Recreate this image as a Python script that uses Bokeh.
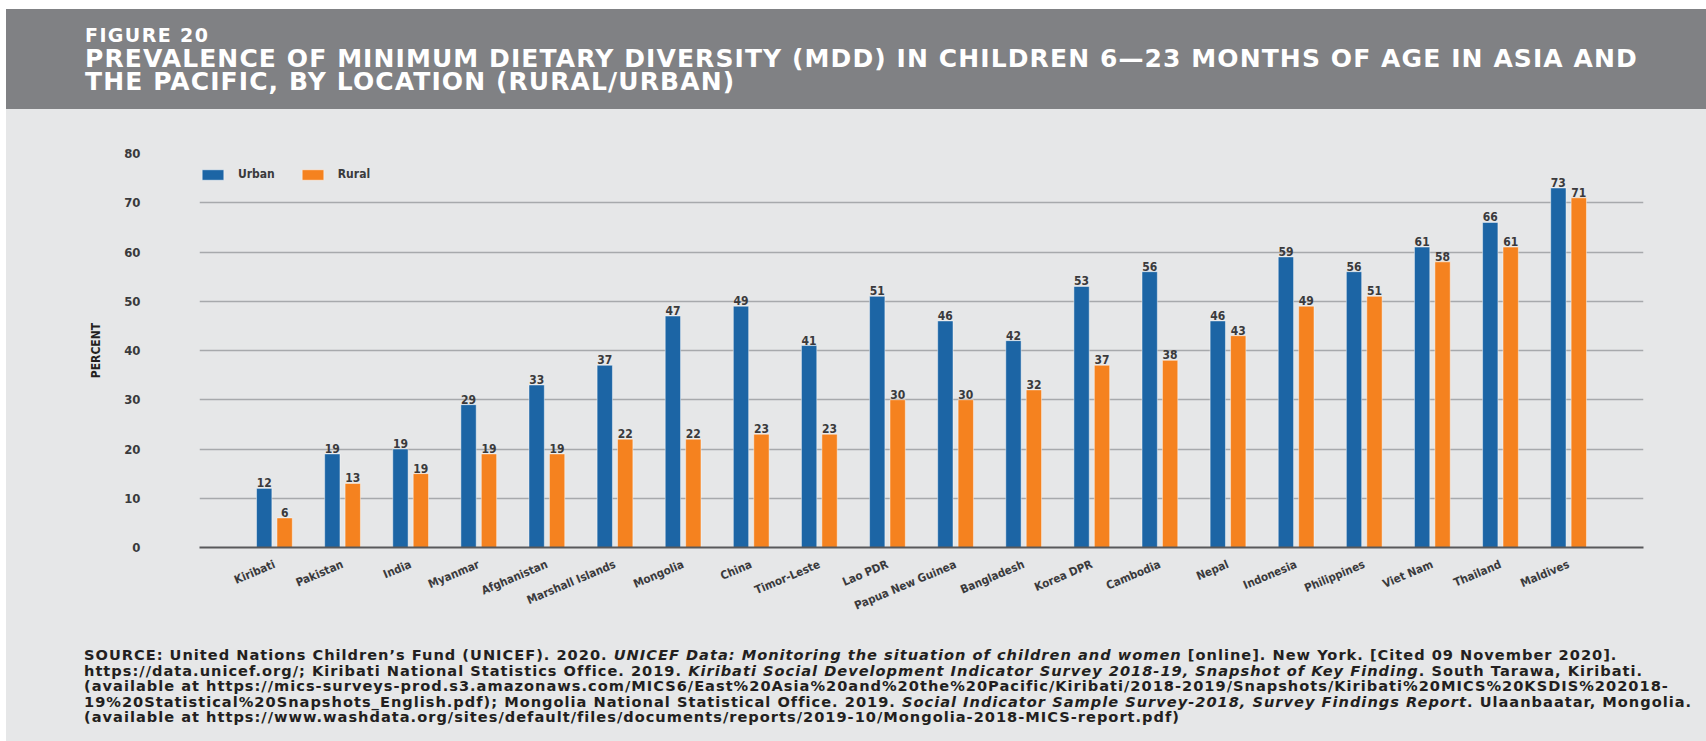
import math
from bokeh.plotting import figure
from bokeh.models import (ColumnDataSource, FactorRange, Div, Legend, LegendItem,
                          Range1d, FixedTicker)
from bokeh.layouts import column
from bokeh.transform import dodge
from bokeh.core.properties import value
from bokeh.embed import file_html
from bokeh.resources import INLINE

# ---------------- data ----------------
countries = ["Kiribati", "Pakistan", "India", "Myanmar", "Afghanistan",
             "Marshall Islands", "Mongolia", "China", "Timor-Leste", "Lao PDR",
             "Papua New Guinea", "Bangladesh", "Korea DPR", "Cambodia", "Nepal",
             "Indonesia", "Philippines", "Viet Nam", "Thailand", "Maldives"]
urban = [12, 19, 20, 29, 33, 37, 47, 49, 41, 51, 46, 42, 53, 56, 46, 59, 56, 61, 66, 73]
rural = [6, 13, 15, 19, 19, 22, 22, 23, 23, 30, 30, 32, 37, 38, 43, 49, 51, 58, 61, 71]
urban_labels = ["12", "19", "19", "29", "33", "37", "47", "49", "41", "51",
                "46", "42", "53", "56", "46", "59", "56", "61", "66", "73"]
rural_labels = ["6", "13", "19", "19", "19", "22", "22", "23", "23", "30",
                "30", "32", "37", "38", "43", "49", "51", "58", "61", "71"]
y_ticks = [0, 10, 20, 30, 40, 50, 60, 70, 80]

# ---------------- styles ----------------
FONT = "DejaVu Sans Condensed"
BG = "#e6e7e8"
BAND = "#808184"
BLUE = "#1c65a5"
ORANGE = "#f5821f"
TXT = "#3a3a3c"

src = ColumnDataSource(dict(country=countries, urban=urban, rural=rural,
                            ulab=urban_labels, rlab=rural_labels))

p = figure(x_range=FactorRange(factors=countries, range_padding=0.6,
                               range_padding_units="absolute"),
           y_range=Range1d(0, 80),
           width=1700, height=544, output_backend="svg", toolbar_location=None,
           min_border_left=193, min_border_right=63, min_border_top=44,
           min_border_bottom=106,
           background_fill_color=BG, border_fill_color=None,
           outline_line_color=None, margin=0)

OFF = 0.15
W = 0.225
r_u = p.vbar(x=dodge("country", -OFF, range=p.x_range), top="urban", width=W,
             source=src, fill_color=BLUE, line_color="#ffffff", line_alpha=0.45,
             line_width=1)
r_r = p.vbar(x=dodge("country", OFF, range=p.x_range), top="rural", width=W,
             source=src, fill_color=ORANGE, line_color="#ffffff", line_alpha=0.45,
             line_width=1)

for col, lab, off in (("urban", "ulab", -OFF), ("rural", "rlab", OFF)):
    p.text(x=dodge("country", off, range=p.x_range), y=col, text=lab, source=src,
           text_align="center", text_baseline="bottom", y_offset=-1,
           text_font=value(FONT), text_font_size="12px", text_font_style="bold",
           text_color=TXT)

# axes
p.yaxis.ticker = FixedTicker(ticks=y_ticks)
p.yaxis.axis_line_color = None
p.yaxis.major_tick_line_color = None
p.yaxis.minor_tick_line_color = None
p.yaxis.major_label_standoff = 53
p.yaxis.major_label_text_font = FONT
p.yaxis.major_label_text_font_size = "13px"
p.yaxis.major_label_text_font_style = "bold"
p.yaxis.major_label_text_color = TXT
p.yaxis.axis_label = "PERCENT"
p.yaxis.axis_label_text_font = FONT
p.yaxis.axis_label_text_font_size = "12px"
p.yaxis.axis_label_text_font_style = "bold"
p.yaxis.axis_label_text_color = "#231f20"
p.yaxis.axis_label_standoff = 18

p.xaxis.axis_line_color = "#58595b"
p.xaxis.axis_line_width = 2
p.xaxis.major_tick_line_color = None
p.xaxis.minor_tick_line_color = None
p.xaxis.major_label_orientation = 0.4
p.xaxis.major_label_standoff = 10
p.xaxis.major_label_text_font = FONT
p.xaxis.major_label_text_font_size = "11.5px"
p.xaxis.major_label_text_font_style = "bold"
p.xaxis.major_label_text_color = TXT

p.xgrid.grid_line_color = None
p.ygrid.ticker = FixedTicker(ticks=y_ticks[1:])
p.ygrid.grid_line_color = "#a7a9ac"
p.ygrid.grid_line_width = 1.5

legend = Legend(items=[LegendItem(label="Urban", renderers=[r_u]),
                       LegendItem(label="Rural", renderers=[r_r])],
                orientation="horizontal", location=(0, 366),
                glyph_width=27, glyph_height=13, label_height=13,
                label_standoff=12, spacing=24, padding=0, margin=0,
                background_fill_alpha=0, border_line_color=None,
                label_text_font=FONT, label_text_font_size="12px",
                label_text_font_style="bold", label_text_color=TXT)
p.add_layout(legend)

# ---------------- title & source ----------------
title_html = (
    f'<div style="width:1700px;height:100px;background:{BAND};box-sizing:border-box;'
    'padding:17px 0 0 79px;color:#ffffff;font-family:\'DejaVu Sans\',sans-serif;'
    'font-weight:bold;">'
    '<div style="font-size:19px;line-height:19px;height:19px;letter-spacing:1.4px;white-space:nowrap;">FIGURE 20</div>'
    '<div style="width:1585px;font-size:25px;line-height:23px;margin-top:2px;letter-spacing:1.1px;white-space:normal;">'
    'PREVALENCE OF MINIMUM DIETARY DIVERSITY (MDD) IN CHILDREN 6\u201423 MONTHS OF AGE IN ASIA AND '
    'THE PACIFIC, BY LOCATION (RURAL/URBAN)</div></div>'
)
title_div = Div(text=title_html, width=1700, height=100, margin=0)

source_lines = [
    "SOURCE: United Nations Children\u2019s Fund (UNICEF). 2020. <i>UNICEF Data: Monitoring the situation of children and women</i> [online]. New York. [Cited 09 November 2020].",
    "https://data.unicef.org/; Kiribati National Statistics Office. 2019. <i>Kiribati Social Development Indicator Survey 2018-19, Snapshot of Key Finding</i>. South Tarawa, Kiribati.",
    "(available at https://mics-surveys-prod.s3.amazonaws.com/MICS6/East%20Asia%20and%20the%20Pacific/Kiribati/2018-2019/Snapshots/Kiribati%20MICS%20KSDIS%202018-",
    "19%20Statistical%20Snapshots_English.pdf); Mongolia National Statistical Office. 2019. <i>Social Indicator Sample Survey-2018, Survey Findings Report</i>. Ulaanbaatar, Mongolia.",
    "(available at https://www.washdata.org/sites/default/files/documents/reports/2019-10/Mongolia-2018-MICS-report.pdf)",
]
source_html = (
    '<div style="width:1700px;height:98px;box-sizing:border-box;'
    'padding:4px 0 0 78px;color:#231f20;font-family:\'DejaVu Sans\',sans-serif;'
    'font-weight:bold;font-size:14.6px;letter-spacing:1.0px;white-space:nowrap;">'
    + "".join(f'<div style="height:15.5px;line-height:15.5px;">{ln}</div>'
              for ln in source_lines)
    + "</div>"
)
source_div = Div(text=source_html, width=1700, height=98, margin=(-10, 0, 0, 0))

layout = column(title_div, p, source_div, spacing=0, margin=(9, 0, 0, 6),
                styles={"background-color": BG})

open("out.html", "w").write(file_html(layout, INLINE))
